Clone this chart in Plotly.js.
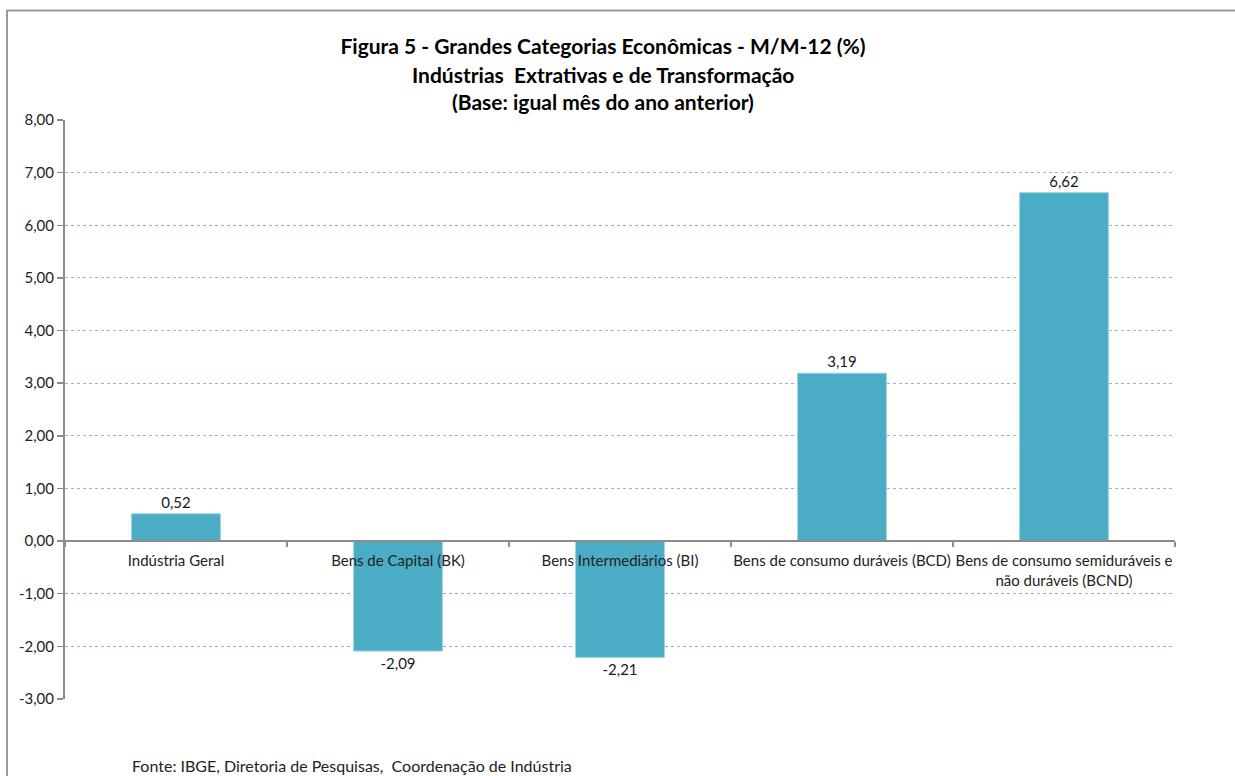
<!DOCTYPE html>
<html>
<head>
<meta charset="utf-8">
<script src="https://cdn.plot.ly/plotly-3.0.1.min.js"></script>
<style>
  html, body { margin: 0; padding: 0; background: #fff; }
  #chart { width: 1235px; height: 776px; }
</style>
</head>
<body>
<div id="chart"></div>
<script>
const categories = [
  "Indústria Geral",
  "Bens de Capital (BK)",
  "Bens Intermediários (BI)",
  "Bens de consumo duráveis (BCD)",
  "Bens de consumo semiduráveis e<br>não duráveis (BCND)"
];
const values = [0.52, -2.09, -2.21, 3.19, 6.62];
const yTicks = [-3, -2, -1, 0, 1, 2, 3, 4, 5, 6, 7, 8];
const titleLines = [
  "Figura 5 - Grandes Categorias Econômicas - M/M-12 (%)",
  "Indústrias  Extrativas e de Transformação",
  "(Base: igual mês do ano anterior)"
];
const sourceText = "Fonte: IBGE, Diretoria de Pesquisas,  Coordenação de Indústria";

const FONT = "Lato, 'Open Sans', sans-serif";
const yMin = -3, yMax = 8;
const fmt = v => v.toFixed(2).replace(".", ",");

const W = 1235, H = 776, ML = 65, MR = 60, MT = 120, MB = 77;
const PW = W - ML - MR, PH = H - MT - MB;
const px = x => (x - ML) / PW;
const py = y => 1 - (y - MT) / PH;

const trace = {
  type: "bar",
  x: categories,
  y: values,
  marker: { color: "#4bacc6", line: { color: "#9ed3e2", width: 1 } },
  width: 0.4,
  text: values.map(fmt),
  texttemplate: "%{text}",
  textposition: "outside",
  textfont: { family: FONT, size: 15, color: "#1a1a1a" },
  cliponaxis: false,
  hoverinfo: "x+y"
};

const layout = {
  width: W,
  height: H,
  margin: { l: ML, r: MR, t: MT, b: MB },
  paper_bgcolor: "#ffffff",
  plot_bgcolor: "#ffffff",
  showlegend: false,
  font: { family: FONT, size: 15, color: "#222" },
  title: {
    text: "<b>" + titleLines[0] + "</b>",
    font: { family: FONT, size: 21, color: "#000" },
    x: 603 / W, xanchor: "center", xref: "container",
    y: 1 - 47 / H, yanchor: "middle", yref: "container"
  },
  xaxis: {
    type: "category",
    anchor: "free",
    position: (0 - yMin) / (yMax - yMin),
    showline: true,
    linecolor: "#8c8c8c",
    linewidth: 2,
    ticks: "outside",
    tickson: "boundaries",
    ticklen: 5,
    tickwidth: 1.5,
    tickcolor: "#8c8c8c",
    tickangle: 0,
    ticklabelstandoff: 6,
    showgrid: false,
    tickfont: { family: FONT, size: 15, color: "#222" },
    fixedrange: true
  },
  yaxis: {
    range: [yMin, yMax],
    tickvals: yTicks,
    ticktext: yTicks.map(fmt),
    showline: true,
    linecolor: "#8c8c8c",
    linewidth: 2,
    ticks: "outside",
    ticklen: 6,
    tickwidth: 1.5,
    tickcolor: "#8c8c8c",
    showgrid: true,
    gridcolor: "#8db3e2",
    gridwidth: 1,
    griddash: "dot",
    zeroline: false,
    tickfont: { family: FONT, size: 15, color: "#222" },
    fixedrange: true
  },
  annotations: [
    {
      text: "<b>" + titleLines[1] + "</b>",
      xref: "paper", yref: "paper",
      x: px(603), xanchor: "center",
      y: py(74), yanchor: "middle",
      showarrow: false,
      font: { family: FONT, size: 21, color: "#000" }
    },
    {
      text: "<b>" + titleLines[2] + "</b>",
      xref: "paper", yref: "paper",
      x: px(603), xanchor: "center",
      y: py(101), yanchor: "middle",
      showarrow: false,
      font: { family: FONT, size: 21, color: "#000" }
    },
    {
      text: sourceText,
      xref: "paper", yref: "paper",
      x: px(130), xanchor: "left",
      y: py(765), yanchor: "middle",
      showarrow: false,
      font: { family: FONT, size: 16, color: "#222" }
    }
  ],
  shapes: [
    { type: "line", xref: "paper", yref: "paper",
      x0: px(6), x1: px(1240), y0: py(10.5), y1: py(10.5),
      line: { color: "#9a9a9a", width: 2 } },
    { type: "line", xref: "paper", yref: "paper",
      x0: px(7), x1: px(7), y0: py(10), y1: py(790),
      line: { color: "#9a9a9a", width: 2 } }
  ]
};

Plotly.newPlot("chart", [trace], layout, { displayModeBar: false, staticPlot: true });
</script>
</body>
</html>
